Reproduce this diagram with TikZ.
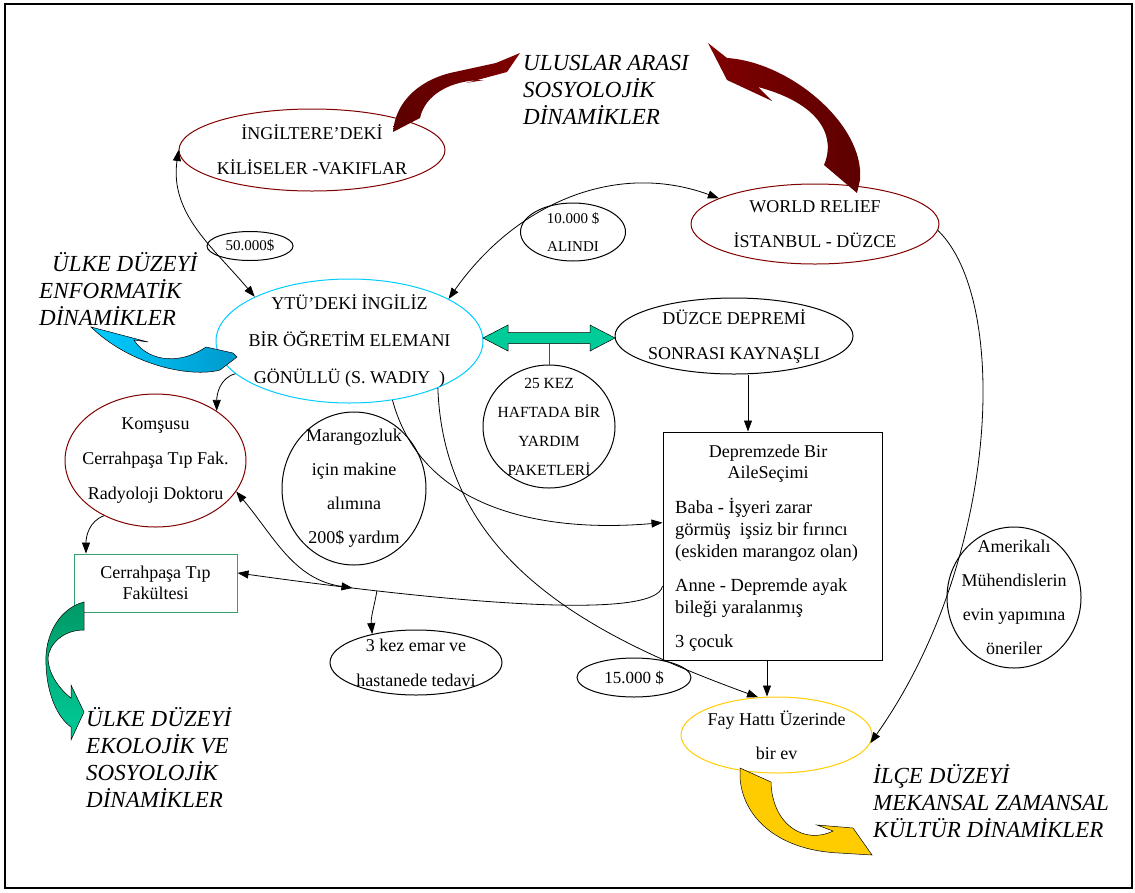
\documentclass[tikz,border=0pt]{standalone}
\usepackage{fontspec}
\setmainfont{Liberation Serif}
\usetikzlibrary{shapes.geometric}
\usetikzlibrary{arrows.meta}
\usetikzlibrary{calc}

\definecolor{kizil}{RGB}{128,0,0}
\definecolor{koyukizil}{RGB}{92,0,0}
\definecolor{camgobegi}{RGB}{0,204,255}
\definecolor{koyumavi}{RGB}{0,153,204}
\definecolor{yesilcizgi}{RGB}{51,160,110}
\definecolor{koyuyesil}{RGB}{0,153,102}
\definecolor{acikyesil}{RGB}{0,204,153}
\definecolor{sari}{RGB}{255,204,0}

\tikzset{
  elps/.style={draw, ellipse, inner sep=0pt, line width=1pt},
  kutu/.style={draw, rectangle, inner sep=0pt, line width=1pt},
  txt/.style={align=center, font=\fontsize{18}{35}\selectfont},
  smalltxt/.style={align=center, font=\fontsize{15}{28}\selectfont},
  dyn/.style={anchor=west, inner sep=0pt, align=left, font=\fontsize{23}{27}\selectfont\itshape},
  conn/.style={line width=0.8pt, -{Triangle[length=11pt,width=8pt]}},
  dconn/.style={line width=0.8pt, {Triangle[length=11pt,width=8pt]}-{Triangle[length=11pt,width=8pt]}},
  blok/.style={draw=black, line width=0.5pt}
}

\begin{document}
\begin{tikzpicture}[x=1pt,y=-1pt]
                \useasboundingbox (0,0) rectangle (1135,892);
                \draw[line width=2pt] (5,4) rectangle (1132,888); % frame

                % Ellipses and boxes
                \node[elps, draw=kizil, minimum width=266, minimum height=82] (ing) at (312,150) {};
                \node[txt] (ingtxt) at (ing) {İNGİLTERE’DEKİ\\KİLİSELER -VAKIFLAR};
                \node[elps, draw=kizil, minimum width=248, minimum height=80] (wr) at (815,224) {};
                \node[txt] (wrtxt) at (wr) {WORLD RELIEF\\İSTANBUL - DÜZCE};
                \node[elps, draw=camgobegi, minimum width=267, minimum height=124] (ytu) at (349.5,341) {};
                \node[txt, font=\fontsize{18}{37}\selectfont] (ytutxt) at (ytu) {YTÜ’DEKİ İNGİLİZ\\BİR ÖĞRETİM ELEMANI\\GÖNÜLLÜ (S. WADIY~~)};
                \node[elps, minimum width=86, minimum height=29] (elli) at (250,246) {};
                \node[smalltxt] (ellitxt) at (elli) {50.000\$};
                \node[elps, minimum width=105, minimum height=58] (onbin) at (573,232) {};
                \node[smalltxt] (onbintxt) at (onbin) {10.000 \$\\ALINDI};
                \node[elps, minimum width=238, minimum height=76] (dz) at (734,336) {};
                \node[txt] (dztxt) at (dz) {DÜZCE DEPREMİ\\SONRASI KAYNAŞLI};
                \node[elps, minimum width=132, minimum height=123] (k25) at (549,426.5) {};
                \node[smalltxt, font=\fontsize{15.5}{29}\selectfont] (k25txt) at (k25) {25 KEZ\\HAFTADA BİR\\YARDIM\\PAKETLERİ};
                \node[elps, minimum width=144, minimum height=153] (mar) at (354,488.5) {};
                \node[txt, font=\fontsize{18}{34}\selectfont] (martxt) at (mar) {Marangozluk\\için makine\\alımına\\200\$ yardım};
                \node[elps, draw=kizil, minimum width=181, minimum height=133] (kom) at (155.5,460.5) {};
                \node[txt] (komtxt) at (kom) {Komşusu\\Cerrahpaşa Tıp Fak.\\Radyoloji Doktoru};
                \node[kutu, draw=yesilcizgi, minimum width=163, minimum height=58] (cer) at (155.5,583) {};
                \node[txt, font=\fontsize{18}{21}\selectfont] (certxt) at (cer) {Cerrahpaşa Tıp\\Fakültesi};
                \node[kutu, minimum width=219, minimum height=228] (dep) at (772.5,546) {};
                \node[txt, font=\fontsize{18}{21}\selectfont] (deptitle) at (768,464) {Depremzede Bir\\AileSeçimi};
                \node[anchor=west, inner sep=0pt, align=left, font=\fontsize{18.5}{22}\selectfont] (deptxt) at (675,575)
                  {Baba - İşyeri zarar\\görmüş~ işsiz bir fırıncı\\(eskiden marangoz olan)\\[12pt]Anne - Depremde ayak\\bileği yaralanmış\\[12pt]3 çocuk};
                \node[elps, minimum width=172, minimum height=65] (kez) at (416,662.5) {};
                \node[txt] (keztxt) at (kez) {3 kez emar ve\\hastanede tedavi};
                \node[elps, minimum width=114, minimum height=39] (onbes) at (634,677.5) {};
                \node[txt, font=\fontsize{17}{20}\selectfont] (onbestxt) at (onbes) {15.000 \$};
                \node[elps, draw=sari, minimum width=191, minimum height=76] (fay) at (776.5,735) {};
                \node[txt, font=\fontsize{18}{34}\selectfont] (faytxt) at (fay) {Fay Hattı Üzerinde\\bir ev};
                \node[elps, minimum width=134, minimum height=141] (amr) at (1014,597.5) {};
                \node[txt, font=\fontsize{18}{34}\selectfont] (amrtxt) at (amr) {Amerikalı\\Mühendislerin\\evin yapımına\\öneriler};

                % Dynamics labels
                \node[dyn] (ulus) at (523,90) {ULUSLAR ARASI\\SOSYOLOJİK\\DİNAMİKLER};
                \node[dyn] (enf) at (39,288.5) {\hspace*{13pt}ÜLKE DÜZEYİ\\ENFORMATİK\\DİNAMİKLER};
                \node[dyn] (eko) at (86,757.5) {ÜLKE DÜZEYİ\\EKOLOJİK VE\\SOSYOLOJİK\\DİNAMİKLER};
                \node[dyn] (ilce) at (873,801.5) {İLÇE DÜZEYİ\\MEKANSAL ZAMANSAL\\KÜLTÜR DİNAMİKLER};

                % Block arrows
                \shade[left color=koyukizil, right color=kizil] (393,132) .. controls (395,105) and (415,82) .. (450,73) -- (496,63) -- (520,53) -- (507,72) -- (466,83) -- (484,80) .. controls (450,80) and (425,95) .. (420,118) -- cycle;
                \shade[left color=kizil, right color=koyukizil] (708,43) -- (727,58) .. controls (790,62) and (865,125) .. (860,180) -- (857,193) -- (824,165) .. controls (835,140) and (825,105) .. (758,87) -- (772,101) -- (727,80) -- cycle;
                \path[blok, left color=camgobegi, right color=koyumavi] (91,327) -- (148,342) -- (134,340) .. controls (145,358) and (175,368) .. (206,347) -- (233,353) -- (237,357) -- (220,370) .. controls (190,378) and (130,365) .. (91,327) -- cycle;
                \path[blok, top color=koyuyesil, bottom color=acikyesil] (84,602) .. controls (60,608) and (44,635) .. (46,665) .. controls (47,695) and (58,718) .. (71,727) -- (71,740) -- (84,712) -- (71,685) -- (71,698) .. controls (58,688) and (48,672) .. (48,658) .. controls (49,645) and (62,630) .. (84,630) -- cycle;
                \filldraw[blok, fill=sari] (740,768) -- (740,777) .. controls (742,815) and (775,850) .. (839,853) -- (872,855) -- (853,828) -- (817,825) -- (833,831) .. controls (805,845) and (772,825) .. (771,782) -- cycle;
                \filldraw[blok, fill=acikyesil] (483,338) -- (508,325) -- (508,332.5) -- (590,332.5) -- (590,325) -- (615,338) -- (590,351) -- (590,343.5) -- (508,343.5) -- (508,351) -- cycle; % double arrow
                \coordinate (gmid) at (549,343.5);
                \draw[gray!60!black, line width=1pt] (gmid) -- (k25.north);

                % Connectors
                \draw[dconn] (ing.west) to[out=262,in=130] (ytu.155);
                \draw[dconn] (ytu.23) to[out=55,in=160] (wr.165);
                \draw[conn] (ytu.196) to[out=195,in=90] (kom.39);
                \draw[conn] (kom.227) to[out=200,in=90] (cer.157);
                \draw[conn] (dep.200) .. controls +(260:35pt) and +(-8:220pt) .. (cer.7) coordinate[pos=0.82] (m1) coordinate[pos=0.78] (m2);
                \draw[dconn] (kom.339) to[out=-50,in=172] (m1);
                \draw[conn] (m2) to[out=260,in=95] (kez.147);
                \draw[conn] (ytu.306) to[out=285,in=185] (dep.168);
                \draw[conn] (ytu.332) to[out=272,in=160] (fay.116);
                \draw[conn] ($(dz.south)+(14,0)$) -- ($(dep.north)+(-24.5,0)$);
                \draw[conn] ($(dep.south)+(-5.5,0)$) -- ($(fay.north)+(-9.5,0)$);
                \draw[conn] (wr.357) .. controls (1010,300) and (1000,560) .. (fay.355);
\end{tikzpicture}
\end{document}
